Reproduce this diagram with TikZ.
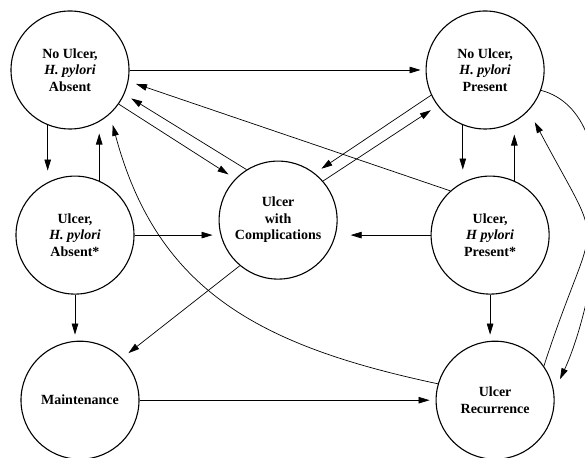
\documentclass[tikz,border=0pt]{standalone}
\usepackage{fontspec}
\setmainfont{Liberation Serif}
\usepackage{tikz}
\usetikzlibrary{positioning,arrows.meta}

\begin{document}
\begin{tikzpicture}[
    x=1pt, y=1pt,
    node distance=46pt and 296pt,
    state/.style={
        draw,
        circle,
        line width=1.1pt,
        minimum size=118pt,
        inner sep=0pt,
        align=center,
        font=\fontsize{14}{16.5}\selectfont\bfseries
    },
    arrow/.style={-{Triangle[length=11pt,width=6.5pt]}, line width=0.7pt, shorten >=8pt}
]
\useasboundingbox (0,0) rectangle (585,457);

\node[state] (noabs) at (70,387) {
No Ulcer, \\
\textit{H. pylori} \\
Absent
};

\node[state, right=of noabs] (nopres) {
No Ulcer, \\
\textit{H. pylori} \\
Present
};

\node[state, below=of noabs, xshift=5pt] (ulcabs) {
Ulcer, \\
\textit{H. pylori} \\
Absent*
};

\node[state, below=of nopres, xshift=5pt] (ulcpres) {
Ulcer, \\
\textit{H pylori} \\
Present*
};

\node[state, right=84pt of ulcabs, yshift=15pt] (compl) {
Ulcer \\
with \\
Complications
};

\node[state, below=of ulcabs, xshift=5pt] (maint) {Maintenance};

\node[state, below=of ulcpres, xshift=5pt] (recur) {
Ulcer \\
Recurrence
};

% left column
\draw[arrow, shorten >=5pt] (noabs) -- (nopres);
\draw[arrow, shorten >=5pt] (noabs.-112) -- (noabs.-112 |- ulcabs.north);
\draw[arrow, shorten >=4pt] (ulcabs.66) -- (ulcabs.66 |- noabs.south);
\draw[arrow, shorten >=6pt] (ulcabs.south) -- (ulcabs.south |- maint.north);
\draw[arrow] (noabs.-35) -- (compl.136);
\draw[arrow] (compl.122) -- (noabs.-24);
\draw[arrow] (ulcpres.132) -- (noabs.-11);
\draw[arrow, shorten >=11pt] (recur.164) to[out=168, in=-75, looseness=1.1] (noabs.-48);
\draw[arrow, shorten >=6pt] (ulcabs.east) -- (ulcabs.east -| compl.west);
\draw[arrow] (compl.230) -- (maint.45);
\draw[arrow, shorten >=6pt] (maint) -- (recur);

% right column
\draw[arrow, shorten >=13pt] (ulcpres.west) -- (ulcpres.west -| compl.east);
\draw[arrow] (nopres.-155) -- (compl.52);
\draw[arrow] (compl.41) -- (nopres.-143);
\draw[arrow, shorten >=6pt] (nopres.-112) -- (nopres.-112 |- ulcpres.north);
\draw[arrow, shorten >=5pt] (ulcpres.66) -- (ulcpres.66 |- nopres.south);
\draw[arrow, shorten >=6pt] (ulcpres.south) -- (ulcpres.south |- recur.north);
\draw[arrow, shorten >=13pt] (recur.35) to[out=72, in=-62, looseness=1.7] (nopres.-43);
\draw[arrow, shorten >=14pt] (nopres.-20) to[out=-15, in=65, looseness=0.8] (recur.8);

\end{tikzpicture}
\end{document}
